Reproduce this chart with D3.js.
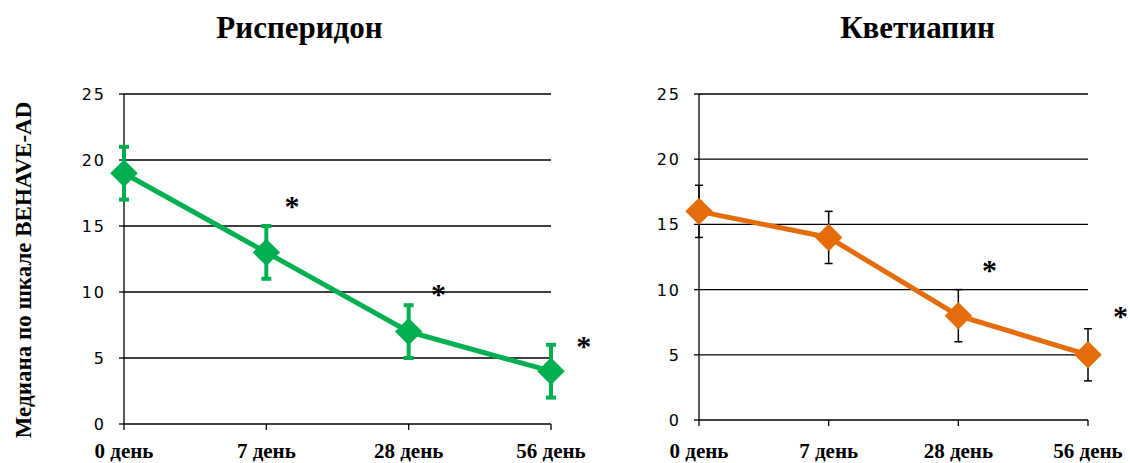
<!DOCTYPE html>
<html>
<head>
<meta charset="utf-8">
<script src="https://cdn.jsdelivr.net/npm/d3@7"></script>
<style>
  body { margin: 0; background: #fff; }
  .tick-lbl { font-family: "DejaVu Sans", sans-serif; font-size: 16px; letter-spacing: 2px; }
  .cat-lbl { font-family: "Liberation Serif", serif; font-size: 21px; font-weight: bold; }
  .ttl { font-family: "Liberation Serif", serif; font-size: 31px; font-weight: bold; }
</style>
</head>
<body>
<div id="viz"></div>
<script>
// data
var days = ["0 день", "7 день", "28 день", "56 день"],
    yTicks = [0, 5, 10, 15, 20, 25];

var risperidone = [19, 13, 7, 4],
    risperidoneLow = [17, 11, 5, 2],
    risperidoneHigh = [21, 15, 9, 6],
    risperidoneStars = [[1.18, 17], [2.21, 10.3], [3.23, 6.4]];

var quetiapine = [16, 14, 8, 5],
    quetiapineLow = [14, 12, 6, 3],
    quetiapineHigh = [18, 16, 10, 7],
    quetiapineStars = [[2.24, 12.0], [3.25, 8.4]];

var width = 1130, height = 463;

var svg = d3.select("#viz").append("svg")
    .attr("width", width)
    .attr("height", height);

// rotated y label
svg.append("text")
    .attr("transform", "translate(31,270) rotate(-90)")
    .attr("text-anchor", "middle")
    .style("font-family", "Liberation Serif, serif")
    .style("font-size", "23px")
    .style("font-weight", "bold")
    .text("Медиана по шкале BEHAVE-AD");

function panel(opts){
    var g = svg.append("g");

    var x = d3.scalePoint().domain(d3.range(days.length)).range([opts.x0, opts.x1]),
        xs = d3.scaleLinear().domain([0, days.length - 1]).range([opts.x0, opts.x1]),
        y = d3.scaleLinear().domain([0, 25]).range([opts.y0, opts.y1]);

    // title
    g.append("text")
        .attr("class", "ttl")
        .attr("x", (opts.x0 + opts.x1) / 2 + opts.titleShift)
        .attr("y", 38)
        .attr("text-anchor", "middle")
        .text(opts.title);

    // gridlines
    g.selectAll(".grid").data(yTicks.filter(function(d){ return d > 0; }))
      .enter().append("line")
        .attr("x1", opts.x0).attr("x2", opts.x1)
        .attr("y1", function(d){ return y(d); }).attr("y2", function(d){ return y(d); })
        .attr("stroke", "#000").attr("stroke-width", 1.3);

    // y axis
    g.append("line")
        .attr("x1", opts.x0).attr("x2", opts.x0)
        .attr("y1", y(0)).attr("y2", y(25))
        .attr("stroke", "#000").attr("stroke-width", 1.3);
    g.selectAll(".ytick").data(yTicks).enter().append("line")
        .attr("x1", opts.x0 - 5).attr("x2", opts.x0)
        .attr("y1", function(d){ return y(d); }).attr("y2", function(d){ return y(d); })
        .attr("stroke", "#000").attr("stroke-width", 1.3);
    g.selectAll(".ylbl").data(yTicks).enter().append("text")
        .attr("class", "tick-lbl")
        .attr("x", opts.x0 - 18)
        .attr("y", function(d){ return y(d) + 6; })
        .attr("text-anchor", "end")
        .text(function(d){ return d; });

    // x axis
    g.append("line")
        .attr("x1", opts.x0).attr("x2", opts.x1)
        .attr("y1", y(0)).attr("y2", y(0))
        .attr("stroke", "#000").attr("stroke-width", 1.3);
    g.selectAll(".xtick").data(d3.range(days.length)).enter().append("line")
        .attr("x1", function(d){ return x(d); }).attr("x2", function(d){ return x(d); })
        .attr("y1", y(0)).attr("y2", y(0) + 6)
        .attr("stroke", "#000").attr("stroke-width", 1.3);
    g.selectAll(".xlbl").data(days).enter().append("text")
        .attr("class", "cat-lbl")
        .attr("x", function(d, i){ return x(i); })
        .attr("y", 458)
        .attr("text-anchor", "middle")
        .text(function(d){ return d; });

    // error bars
    var eb = g.selectAll(".err").data(opts.values).enter().append("g");
    eb.append("line")
        .attr("x1", function(d, i){ return x(i); }).attr("x2", function(d, i){ return x(i); })
        .attr("y1", function(d, i){ return y(opts.low[i]); })
        .attr("y2", function(d, i){ return y(opts.high[i]); })
        .attr("stroke", opts.errColor).attr("stroke-width", opts.errWidth);
    [opts.low, opts.high].forEach(function(arr){
        eb.append("line")
            .attr("x1", function(d, i){ return x(i) - opts.cap; })
            .attr("x2", function(d, i){ return x(i) + opts.cap; })
            .attr("y1", function(d, i){ return y(arr[i]); })
            .attr("y2", function(d, i){ return y(arr[i]); })
            .attr("stroke", opts.errColor).attr("stroke-width", opts.errWidth);
    });

    // line
    var line = d3.line()
        .x(function(d, i){ return x(i); })
        .y(function(d){ return y(d); });
    g.append("path")
        .datum(opts.values)
        .attr("d", line)
        .attr("fill", "none")
        .attr("stroke", opts.color)
        .attr("stroke-width", 5);

    // diamonds
    g.selectAll(".mk").data(opts.values).enter().append("path")
        .attr("transform", function(d, i){ return "translate(" + x(i) + "," + y(d) + ")"; })
        .attr("d", d3.symbol().type(d3.symbolDiamond2).size(opts.markSize))
        .attr("fill", opts.color);

    // significance stars
    g.selectAll(".star").data(opts.stars).enter().append("text")
        .attr("x", function(d){ return xs(d[0]); })
        .attr("y", function(d){ return y(d[1]) + 16; })
        .attr("text-anchor", "middle")
        .style("font-family", "Liberation Serif, serif")
        .style("font-size", "30px")
        .style("font-weight", "bold")
        .text("*");
}

panel({
    title: "Рисперидон", titleShift: -38,
    x0: 124, x1: 551, y0: 424, y1: 94,
    values: risperidone, low: risperidoneLow, high: risperidoneHigh, stars: risperidoneStars,
    color: "#00b050", errColor: "#00b050", errWidth: 4, cap: 5, markSize: 480
});

panel({
    title: "Кветиапин", titleShift: 24,
    x0: 699, x1: 1088, y0: 420, y1: 94,
    values: quetiapine, low: quetiapineLow, high: quetiapineHigh, stars: quetiapineStars,
    color: "#e46c0a", errColor: "#000", errWidth: 1.5, cap: 4, markSize: 480
});
</script>
</body>
</html>
